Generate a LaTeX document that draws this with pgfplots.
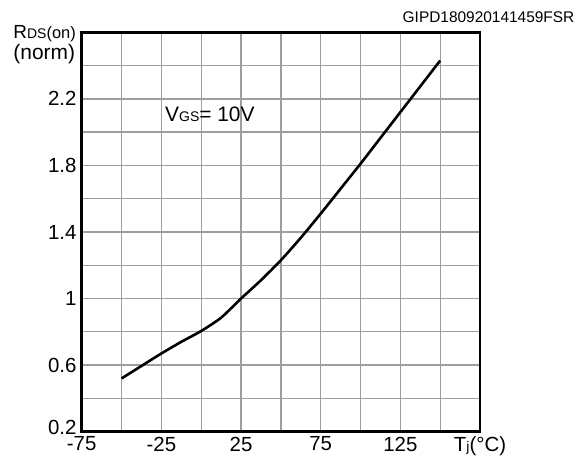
\documentclass[border=0pt]{standalone}
\usepackage{pgfplots}
\pgfplotsset{compat=1.18}
\usepackage{fontspec}
\setmainfont{Liberation Sans}
\begin{document}
\begin{tikzpicture}[x=1bp,y=1bp]
\useasboundingbox (0,0) rectangle (583,457);
\begin{axis}[
  at={(81.7bp,25.3bp)}, anchor=south west,
  scale only axis, width=398.3bp, height=399.4bp,
  xmin=-75, xmax=175, ymin=0.2, ymax=2.6,
  xtick={-75,-50,-25,0,25,50,75,100,125,150,175},
  xticklabels={-75,,-25,,25,,75,,125,,{T{\fontsize{14}{16}\selectfont j}(°C)}},
  ytick={0.2,0.4,0.6,0.8,1.0,1.2,1.4,1.6,1.8,2.0,2.2,2.4,2.6},
  yticklabels={\raisebox{4.5bp}[14.7bp][0pt]{0.2},,0.6,,1,,1.4,,1.8,,2.2,,},
  major tick length=0pt,
  grid=major,
  major grid style={draw=black!38, line width=1.3bp},
  axis line style={line width=2.6bp, black},
  tick label style={font=\fontsize{20.5}{24}\selectfont},
  xticklabel style={inner sep=0pt, yshift=-5bp},
  yticklabel style={inner sep=0pt, xshift=-5bp},
]
\addplot[black, line width=2.6bp, smooth, tension=0.4] coordinates {
(-50,0.52) (-37.5,0.595) (-25,0.67) (-12.5,0.74) (0,0.805) (12.5,0.885)
(25,1.00) (37.5,1.11) (50,1.23) (62.5,1.365) (75,1.51) (87.5,1.66)
(100,1.81) (112.5,1.965) (125,2.12) (137.5,2.275) (150,2.43)
};
\end{axis}
\node[anchor=base east, inner sep=0pt, font=\fontsize{15.5}{18}\selectfont] at (574.6,434.3) {GIPD180920141459FSR};
\node[anchor=base west, inner sep=0pt] at (13.3,418) {{\fontsize{19}{21}\selectfont R}{\fontsize{14}{16}\selectfont DS}{\fontsize{16.5}{19}\selectfont (on)}};
\node[anchor=base west, inner sep=0pt, font=\fontsize{21}{24}\selectfont] at (13.3,397.5) {(norm)};
\node[anchor=base west, inner sep=0pt] at (165,335.3) {{\fontsize{21}{24}\selectfont V}{\fontsize{14}{16}\selectfont GS}{\fontsize{21}{24}\selectfont = 10V}};
\end{tikzpicture}
\end{document}
